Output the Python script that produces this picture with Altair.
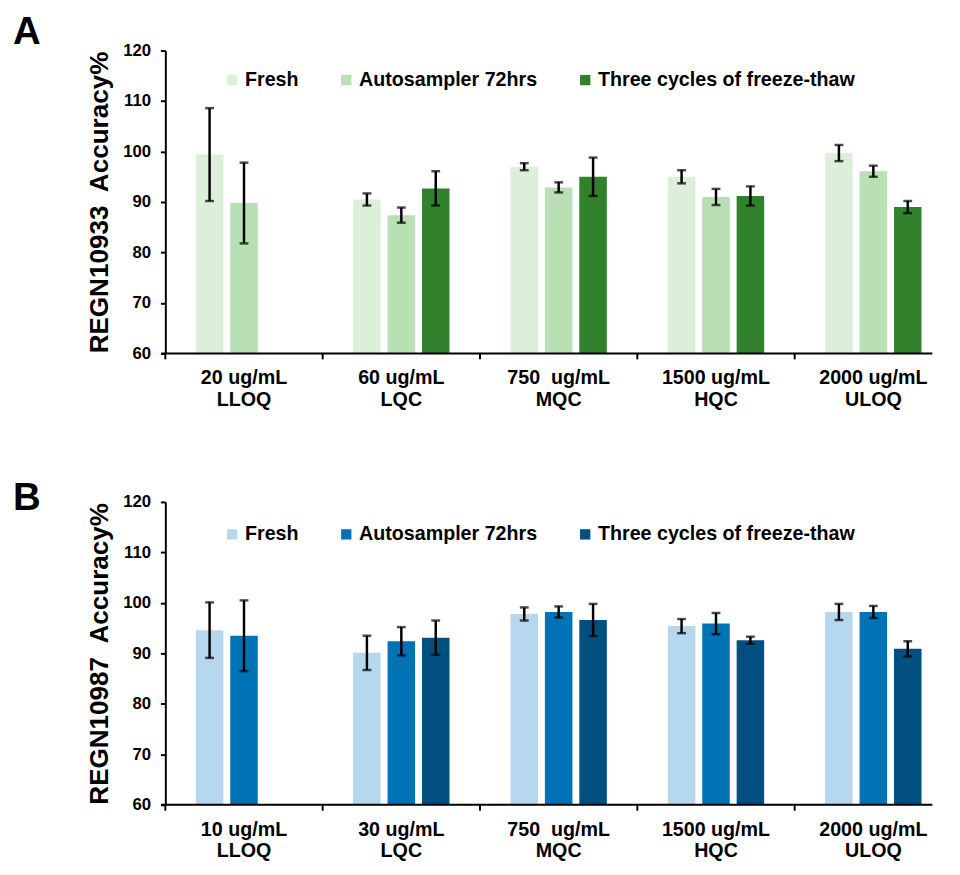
import altair as alt
import pandas as pd

FONT = "Liberation Sans"

series = ["Fresh", "Autosampler 72hrs", "Three cycles of freeze-thaw"]

cats_A = ["20 ug/mL\nLLOQ", "60 ug/mL\nLQC", "750\u00a0 ug/mL\nMQC", "1500 ug/mL\nHQC", "2000 ug/mL\nULOQ"]
A_fresh = [99.4, 90.5, 97.0, 95.0, 99.7]
A_fresh_sd = [9.2, 1.2, 0.7, 1.3, 1.6]
A_auto = [89.8, 87.4, 92.9, 91.0, 96.1]
A_auto_sd = [8.0, 1.5, 1.0, 1.6, 1.1]
A_ft = [None, 92.7, 95.0, 91.2, 89.0]
A_ft_sd = [None, 3.4, 3.8, 1.9, 1.2]
colors_A = ["#dcefd9", "#b9e0b4", "#31812c"]

cats_B = ["10 ug/mL\nLLOQ", "30 ug/mL\nLQC", "750\u00a0 ug/mL\nMQC", "1500 ug/mL\nHQC", "2000 ug/mL\nULOQ"]
B_fresh = [94.6, 90.1, 97.8, 95.4, 98.2]
B_fresh_sd = [5.5, 3.4, 1.3, 1.4, 1.6]
B_auto = [93.5, 92.4, 98.2, 95.9, 98.2]
B_auto_sd = [7.0, 2.8, 1.1, 2.1, 1.2]
B_ft = [None, 93.1, 96.6, 92.6, 90.9]
B_ft_sd = [None, 3.4, 3.2, 0.7, 1.5]
colors_B = ["#b5d8ef", "#0072b6", "#004f7f"]

y_ticks = [60, 70, 80, 90, 100, 110, 120]

W, H = 780, 308
BAND_RANGE = 800


def panel(cats, vals, sds, colors, letter, ytitle, letter_y, legend_y):
    rows = []
    for s, v, sd in zip(series, vals, sds):
        for c, m, e in zip(cats, v, sd):
            if m is None:
                continue
            rows.append(dict(cat=c, series=s, value=m, lo=m - e, hi=m + e))
    df = pd.DataFrame(rows)

    xaxis = alt.Axis(
        title=None, labelExpr="split(datum.value, '\\n')", ticks=False, domain=False,
        labelAngle=0, labelFontSize=20, labelFontWeight="bold", labelColor="black",
        labelFont=FONT, labelPadding=15, labelLineHeight=22,
    )
    xscale = alt.Scale(domain=cats, range=[0, BAND_RANGE], paddingInner=0, paddingOuter=0)
    xenc = alt.X("cat:N", sort=cats, scale=xscale, axis=xaxis)
    xoff = alt.XOffset("series:N", sort=series,
                       scale=alt.Scale(domain=series, paddingInner=0.2, paddingOuter=0.886))
    yaxis = alt.Axis(
        title=ytitle, values=y_ticks, grid=False, tickSize=5, tickWidth=2, tickColor="black",
        domainColor="black", domainWidth=2, labelFontSize=17, labelFontWeight="bold",
        labelColor="black", labelFont=FONT, labelPadding=10, titleFontSize=26.5,
        titleFontWeight="bold", titleColor="black", titleFont=FONT, titlePadding=9,
    )
    yscale = alt.Scale(domain=[60, 120], nice=False, zero=False)

    bars = alt.Chart(df).mark_bar().encode(
        x=xenc, xOffset=xoff,
        y=alt.Y("value:Q", scale=yscale, axis=yaxis),
        y2=alt.datum(60),
        color=alt.Color(
            "series:N", sort=series, scale=alt.Scale(domain=series, range=colors),
            legend=alt.Legend(
                title=None, orient="none", legendX=58, legendY=legend_y, direction="horizontal",
                symbolType="square", symbolSize=110, symbolStrokeWidth=0, labelFontSize=20,
                labelFontWeight="bold", labelFont=FONT, labelColor="black", labelLimit=400,
                columnPadding=38, padding=0, labelOffset=3,
            ),
        ),
    )
    err = alt.Chart(df).mark_rule(color="black", strokeWidth=2.5).encode(
        x=xenc, xOffset=xoff,
        y=alt.Y("lo:Q", scale=yscale, axis=yaxis), y2="hi:Q",
    )
    cap_lo = alt.Chart(df).mark_tick(color="black", thickness=2.5, size=9).encode(
        x=xenc, xOffset=xoff, y=alt.Y("lo:Q", scale=yscale, axis=yaxis),
    )
    cap_hi = alt.Chart(df).mark_tick(color="black", thickness=2.5, size=9).encode(
        x=xenc, xOffset=xoff, y=alt.Y("hi:Q", scale=yscale, axis=yaxis),
    )
    tick_df = pd.DataFrame({"cat": cats})
    xticks = alt.Chart(tick_df).mark_rule(color="black", strokeWidth=2).encode(
        x=alt.X("cat:N", sort=cats, scale=xscale, axis=xaxis, bandPosition=0),
        y=alt.value(H), y2=alt.value(H + 6),
    )
    xline = alt.Chart(tick_df.head(1)).mark_rule(color="black", strokeWidth=2).encode(
        x=alt.value(-4), x2=alt.value(W), y=alt.value(H),
    )
    lab = alt.Chart(pd.DataFrame({"t": [letter]})).mark_text(
        fontSize=39, fontWeight="bold", font=FONT, align="left", baseline="top", color="black",
    ).encode(text="t:N", x=alt.value(-155), y=alt.value(letter_y))

    return alt.layer(bars, err, cap_lo, cap_hi, xticks, xline, lab).properties(width=W, height=H)


pa = panel(cats_A, [A_fresh, A_auto, A_ft], [A_fresh_sd, A_auto_sd, A_ft_sd], colors_A,
           "A", "REGN10933\u00a0 Accuracy%", -38, 20)
pb = panel(cats_B, [B_fresh, B_auto, B_ft], [B_fresh_sd, B_auto_sd, B_ft_sd], colors_B,
           "B", "REGN10987\u00a0 Accuracy%", -23, 23)

chart = alt.vconcat(pa, pb, spacing=71).resolve_scale(
    color="independent", x="independent", xOffset="independent"
).resolve_legend(color="independent").properties(
    padding={"left": 5, "top": -2, "right": 0, "bottom": 2}
).configure_view(stroke=None)

chart.save("out.html", embed_options={"renderer": "svg", "actions": False})
